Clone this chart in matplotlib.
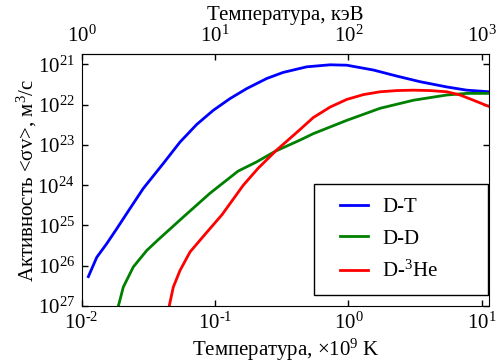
import numpy as np
import matplotlib
matplotlib.use("Agg")
import matplotlib.pyplot as plt
from matplotlib.lines import Line2D
from matplotlib.legend_handler import HandlerLine2D
from matplotlib.ticker import NullLocator, FixedLocator, FixedFormatter

plt.rcParams['font.family'] = ['Liberation Serif', 'DejaVu Serif']
plt.rcParams['mathtext.fontset'] = 'custom'
plt.rcParams['mathtext.rm'] = 'Liberation Serif'
plt.rcParams['mathtext.it'] = 'Liberation Serif:italic'
plt.rcParams['font.size'] = 15

# log10 of temperature (x10^9 K) and log10 of <sigma v> (m^3/s)
dt_logT = [-1.950, -1.887, -1.812, -1.737, -1.638, -1.538, -1.388, -1.263, -1.137,
           -1.013, -0.888, -0.762, -0.612, -0.490, -0.312, -0.137, -0.012, 0.188,
           0.363, 0.538, 0.738, 0.888, 1.058]
dt_logR = [-26.27, -25.79, -25.45, -25.08, -24.58, -24.08, -23.46, -22.93, -22.49,
           -22.14, -21.85, -21.60, -21.35, -21.20, -21.06, -21.01, -21.02, -21.14,
           -21.29, -21.43, -21.56, -21.64, -21.68]

dd_logT = [-1.725, -1.688, -1.613, -1.512, -1.425, -1.238, -1.038, -0.827, -0.687,
           -0.550, -0.363, -0.263, -0.012, 0.238, 0.488, 0.738, 0.888, 1.058]
dd_logR = [-27.00, -26.53, -26.03, -25.62, -25.35, -24.79, -24.20, -23.65, -23.42,
           -23.16, -22.88, -22.72, -22.39, -22.09, -21.89, -21.76, -21.72, -21.72]

dhe_logT = [-1.343, -1.313, -1.263, -1.188, -1.088, -0.947, -0.788, -0.677, -0.542,
            -0.377, -0.263, -0.137, -0.012, 0.113, 0.238, 0.363, 0.488, 0.613,
            0.738, 0.838, 0.938, 1.058]
dhe_logR = [-26.99, -26.53, -26.12, -25.66, -25.27, -24.73, -24.00, -23.58, -23.14,
            -22.66, -22.32, -22.06, -21.87, -21.75, -21.68, -21.65, -21.64, -21.65,
            -21.68, -21.76, -21.89, -22.05]

labels = ['D-T', 'D-D', 'D-$^3$He']
colors = ['#0000ff', '#008000', '#ff0000']

xticks = [1e-2, 1e-1, 1e0, 1e1]
xticklabels = ['$10^{\u2010 2}$', '$10^{\u2010 1}$', '$10^{0}$', '$10^{1}$']
yticks = [1e-21, 1e-22, 1e-23, 1e-24, 1e-25, 1e-26, 1e-27]
yticklabels = ['$10^{21}$', '$10^{22}$', '$10^{23}$', '$10^{24}$',
               '$10^{25}$', '$10^{26}$', '$10^{27}$']
kev_ticks = [1, 10, 100, 1000]
kev_labels = ['$10^{0}$', '$10^{1}$', '$10^{2}$', '$10^{3}$']


class ShortLine(HandlerLine2D):
    # legend line that starts a bit right of the handle slot
    def create_artists(self, legend, orig_handle, xdescent, ydescent, width,
                       height, fontsize, trans):
        arts = super().create_artists(legend, orig_handle, xdescent, ydescent,
                                      width, height, fontsize, trans)
        shift = 6.5 / 72 * legend.figure.dpi
        for a in arts:
            x = np.asarray(a.get_xdata(), dtype=float)
            a.set_xdata(np.linspace(x[0] + shift, x[-1], len(x)))
        return arts


fig = plt.figure(figsize=(5, 3.63), dpi=100)
ax = fig.add_axes([0.1634, 0.157, 0.8152, 0.694])

series = [(dt_logT, dt_logR), (dd_logT, dd_logR), (dhe_logT, dhe_logR)]
for (lt, lr), lab, c in zip(series, labels, colors):
    ax.plot(np.power(10.0, lt), np.power(10.0, lr), color=c, lw=2, label=lab)

ax.set_xscale('log')
ax.set_yscale('log')
ax.set_xlim(1e-2, 10 ** 1.057)
ax.set_ylim(1e-27, 10 ** -20.744)

ax.xaxis.set_major_locator(FixedLocator(xticks))
ax.xaxis.set_major_formatter(FixedFormatter(xticklabels))
ax.yaxis.set_major_locator(FixedLocator(yticks))
ax.yaxis.set_major_formatter(FixedFormatter(yticklabels))
ax.xaxis.set_minor_locator(NullLocator())
ax.yaxis.set_minor_locator(NullLocator())
ax.tick_params(axis='both', direction='in', length=4, width=1, pad=5, labelsize=15)
ax.tick_params(axis='y', right=True)
ax.tick_params(axis='x', top=False)

sec = ax.secondary_xaxis('top', functions=(lambda x: x * 100, lambda x: x / 100))
sec.xaxis.set_major_locator(FixedLocator(kev_ticks))
sec.xaxis.set_major_formatter(FixedFormatter(kev_labels))
sec.xaxis.set_minor_locator(NullLocator())
sec.tick_params(direction='in', length=4, width=1, pad=5, labelsize=15)
sec.set_xlabel('Температура, кэВ', fontsize=15, labelpad=4.5)

ax.set_xlabel('Температура, ×10$^9$ K', fontsize=15, labelpad=2)
ax.set_ylabel('Активность <σv>, м$^3$/с', fontsize=15, labelpad=-1.5)

leg = ax.legend(loc='lower left', bbox_to_anchor=(0.570, 0.0437, 0.427, 0.44),
                mode='expand', borderaxespad=0, fontsize=15,
                fancybox=False, edgecolor='black', framealpha=1,
                handlelength=1.97, handletextpad=0.66, borderpad=0.63,
                labelspacing=0.58, handler_map={Line2D: ShortLine()})
leg.get_frame().set_linewidth(1)

fig.savefig('out.png', dpi=100)
